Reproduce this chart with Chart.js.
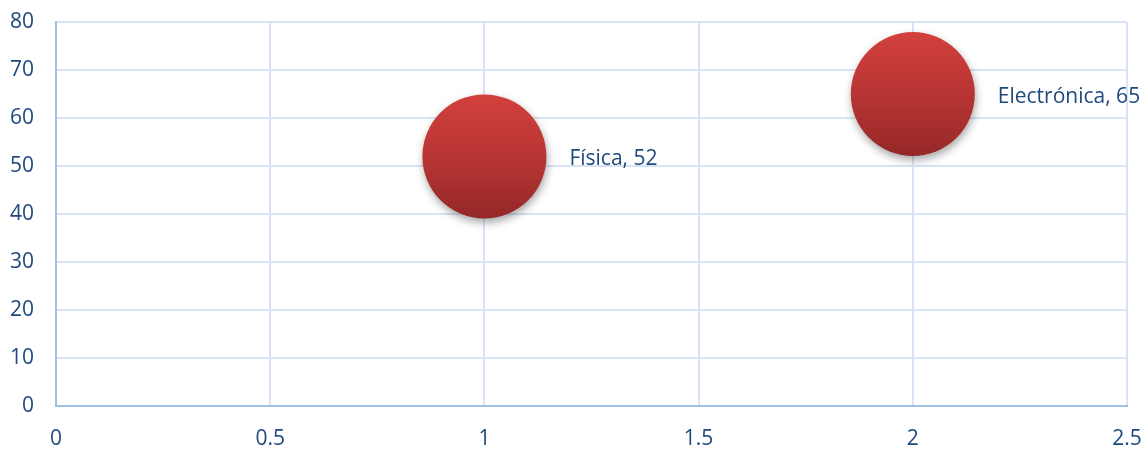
<!DOCTYPE html>
<html>
<head>
<meta charset="utf-8">
<script src="https://cdn.jsdelivr.net/npm/chart.js@4/dist/chart.umd.min.js"></script>
<style>
  html, body { margin: 0; padding: 0; background: #fff; }
  #wrap { width: 1148px; height: 450px; }
</style>
</head>
<body>
<div id="wrap"><canvas id="chart"></canvas></div>
<script>
// data
const categories = ['Física', 'Electrónica'];
const xValues = [1, 2];
const yValues = [52, 65];
const bubbleSizes = [10, 10];

const xTicks = [0, 0.5, 1, 1.5, 2, 2.5];
const yTicks = [0, 10, 20, 30, 40, 50, 60, 70, 80];

const textColor = '#1F497D';
const gridColor = '#D8E4F5';
const axisColor = '#A0BEE6';
const font = { family: "'Open Sans', 'Liberation Sans', sans-serif", size: 21 };
const sizeToPx = 6.2;

const points = categories.map((name, i) => ({ x: xValues[i], y: yValues[i], r: bubbleSizes[i] * sizeToPx }));

function bubbleGradient(ctx) {
  const chart = ctx.chart;
  if (!ctx.raw || !chart.scales.y) return '#B83533';
  const cy = chart.scales.y.getPixelForValue(ctx.raw.y);
  const r = ctx.raw.r;
  if (!isFinite(cy) || !isFinite(r)) return '#B83533';
  const g = chart.ctx.createLinearGradient(0, cy - r, 0, cy + r);
  g.addColorStop(0, '#D2403D');
  g.addColorStop(0.5, '#B83533');
  g.addColorStop(1, '#952828');
  return g;
}

const shadowPlugin = {
  id: 'bubbleShadow',
  beforeDatasetDraw(chart) {
    const c = chart.ctx;
    c.save();
    c.shadowColor = 'rgba(0,0,0,0.35)';
    c.shadowBlur = 8;
    c.shadowOffsetX = 1;
    c.shadowOffsetY = 4;
  },
  afterDatasetDraw(chart) {
    chart.ctx.restore();
  }
};

const labelPlugin = {
  id: 'bubbleLabels',
  afterDatasetsDraw(chart) {
    const c = chart.ctx;
    const meta = chart.getDatasetMeta(0);
    c.save();
    c.fillStyle = textColor;
    c.font = font.size + 'px ' + font.family;
    c.textAlign = 'left';
    c.textBaseline = 'middle';
    meta.data.forEach((el, i) => {
      const r = el.options.radius;
      c.fillText(categories[i] + ', ' + yValues[i], el.x + r + 23, el.y + 3);
    });
    c.restore();
  }
};

new Chart(document.getElementById('chart'), {
  type: 'bubble',
  data: {
    datasets: [{
      data: points,
      backgroundColor: bubbleGradient,
      borderWidth: 0,
      hoverRadius: 0,
      clip: false
    }]
  },
  options: {
    responsive: true,
    maintainAspectRatio: false,
    animation: false,
    events: [],
    layout: { autoPadding: false, padding: { top: 22, right: 21, left: 0, bottom: 0 } },
    plugins: {
      legend: { display: false },
      tooltip: { enabled: false }
    },
    scales: {
      x: {
        type: 'linear',
        min: xTicks[0],
        max: xTicks[xTicks.length - 1],
        afterBuildTicks(scale) { scale.ticks = xTicks.map(v => ({ value: v })); },
        afterFit(scale) {
          scale.height = 44;
          scale.paddingLeft = 0;
          scale.paddingRight = 0;
        },
        grid: { color: gridColor, lineWidth: 2, drawTicks: false },
        border: { color: axisColor, width: 2 },
        ticks: { color: textColor, font, padding: 20, maxRotation: 0, callback: v => String(v) }
      },
      y: {
        type: 'linear',
        min: yTicks[0],
        max: yTicks[yTicks.length - 1],
        afterBuildTicks(scale) { scale.ticks = yTicks.map(v => ({ value: v })); },
        afterFit(scale) {
          scale.width = 56;
          scale.paddingTop = 0;
          scale.paddingBottom = 0;
        },
        grid: { color: gridColor, lineWidth: 2, drawTicks: false },
        border: { color: axisColor, width: 2 },
        ticks: { color: textColor, font, padding: 22, callback: v => String(v) }
      }
    }
  },
  plugins: [shadowPlugin, labelPlugin]
});
</script>
</body>
</html>
